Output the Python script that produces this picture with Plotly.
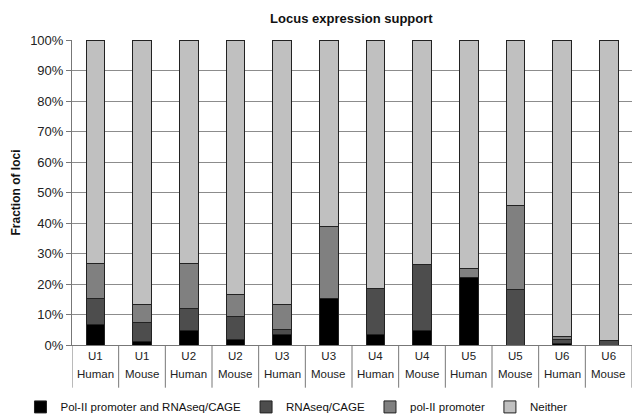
import plotly.graph_objects as go

units = ["U1", "U1", "U2", "U2", "U3", "U3", "U4", "U4", "U5", "U5", "U6", "U6"]
species = ["Human", "Mouse", "Human", "Mouse", "Human", "Mouse",
           "Human", "Mouse", "Human", "Mouse", "Human", "Mouse"]

# percentages
polii_and_rna = [6.6, 1.2, 4.7, 1.9, 3.3, 15.4, 3.3, 4.7, 22.1, 0.0, 0.4, 0.0]
rnaseq_cage   = [8.8, 6.3, 7.4, 7.4, 1.7, 0.0, 15.3, 21.6, 0.0, 18.1, 1.4, 1.6]
polii_prom    = [11.2, 5.7, 14.5, 7.2, 8.2, 23.4, 0.0, 0.0, 3.1, 27.6, 0.9, 0.0]
neither = [round(100 - a - b - c, 1) for a, b, c in zip(polii_and_rna, rnaseq_cage, polii_prom)]

series = [
    ("Pol-II promoter and RNAseq/CAGE", polii_and_rna, "#000000"),
    ("RNAseq/CAGE", rnaseq_cage, "#4d4d4d"),
    ("pol-II promoter", polii_prom, "#808080"),
    ("Neither", neither, "#c0c0c0"),
]

FONT = "Liberation Sans, Arial, sans-serif"
xs = list(range(len(units)))

fig = go.Figure()
for name, vals, col in series:
    fig.add_trace(go.Bar(
        x=xs, y=[v / 100 for v in vals], name=name,
        marker=dict(color=col, line=dict(color="#222222", width=1)),
    ))

# species labels (second row) and separators
for i, s in enumerate(species):
    fig.add_annotation(x=i, y=-0.121, xref="x", yref="paper", text=s,
                       showarrow=False, font=dict(family=FONT, size=11.5, color="#222"))
for i in range(len(units) + 1):
    fig.add_shape(type="line", xref="x", yref="paper", x0=i - 0.5, x1=i - 0.5,
                  y0=0, y1=-0.14, line=dict(color="#777777", width=1))

fig.update_layout(
    width=632, height=418,
    margin=dict(l=72, r=0, t=40, b=73, autoexpand=False),
    paper_bgcolor="white", plot_bgcolor="white",
    barmode="stack", bargap=0.6,
    font=dict(family=FONT, color="#222"),
    title=dict(text="<b>Locus expression support</b>", x=0.556, xanchor="center",
               y=0.955, yanchor="middle", font=dict(family=FONT, size=13, color="#111")),
    legend=dict(orientation="h", x=-0.092, xanchor="left", y=-0.203, yanchor="middle",
                font=dict(family=FONT, size=11.5, color="#111"), traceorder="normal",
                itemwidth=30, tracegroupgap=0),
    showlegend=True,
)
fig.update_xaxes(
    range=[-0.5, len(units) - 0.5], tickmode="array", tickvals=xs, ticktext=units,
    showline=True, linecolor="#777777", linewidth=1, ticks="", showgrid=False,
    tickfont=dict(family=FONT, size=11.5, color="#222"), zeroline=False,
)
fig.update_yaxes(
    range=[0, 1], dtick=0.1, tickformat=".0%", showgrid=True, gridcolor="#8c8c8c",
    gridwidth=1, showline=True, linecolor="#777777", linewidth=1,
    ticks="outside", ticklen=5, tickcolor="#777777", zeroline=False,
    tickfont=dict(family=FONT, size=13, color="#222"),
    title=dict(text="<b>Fraction of loci</b>", font=dict(family=FONT, size=12, color="#111"),
               standoff=6),
)

fig.write_html("out.html",
               config={"displayModeBar": False},
               post_script="document.body.style.margin='0';"
                           "document.documentElement.style.overflow='hidden';")
